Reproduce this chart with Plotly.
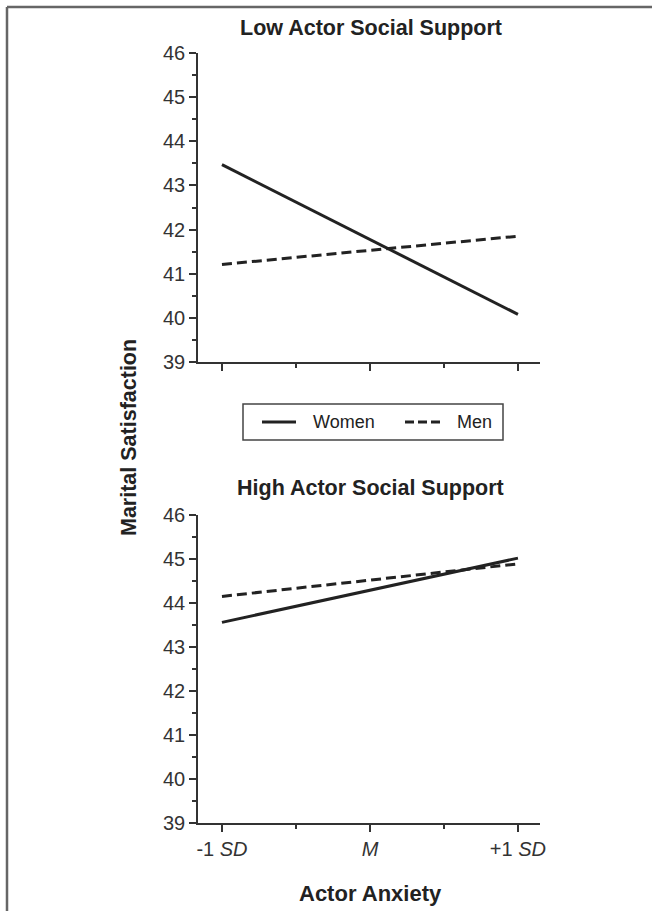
import plotly.graph_objects as go

# Simple-slopes data: marital satisfaction at -1 SD and +1 SD of actor anxiety
anxiety = [-1, 1]
x_tick_vals = [-1, 0, 1]
x_tick_text = ["-1 <i>SD</i>", "<i>M</i>", "+1 <i>SD</i>"]
y_tick_vals = [39, 40, 41, 42, 43, 44, 45, 46]

low_women = [43.47, 40.08]
low_men = [41.21, 41.85]
high_women = [43.56, 45.02]
high_men = [44.15, 44.89]

series_names = ["Women", "Men"]

W, H = 652, 911
FONT = "Liberation Sans, Arial, Helvetica, sans-serif"
INK = "#222222"
AXIS = "#333333"


def px_x(p):
    return p / W


def px_y(p):
    return 1 - p / H


fig = go.Figure()

solid = dict(color=INK, width=3)
dashed = dict(color=INK, width=3, dash="10px,5px")

fig.add_trace(go.Scatter(x=anxiety, y=low_women, mode="lines", line=solid,
                         name=series_names[0], xaxis="x", yaxis="y"))
fig.add_trace(go.Scatter(x=anxiety, y=low_men, mode="lines", line=dashed,
                         name=series_names[1], xaxis="x", yaxis="y"))
fig.add_trace(go.Scatter(x=anxiety, y=high_women, mode="lines", line=solid,
                         name=series_names[0], xaxis="x2", yaxis="y2"))
fig.add_trace(go.Scatter(x=anxiety, y=high_men, mode="lines", line=dashed,
                         name=series_names[1], xaxis="x2", yaxis="y2"))

x_range = [-1.162, 1.149]
common_x = dict(
    range=x_range, showgrid=False, zeroline=False, showline=True,
    linecolor=AXIS, linewidth=1.5, ticks="outside", ticklen=7,
    tickwidth=1.5, tickcolor=AXIS, tickvals=x_tick_vals,
    minor=dict(tickvals=[-0.5, 0.5], ticks="outside", ticklen=4,
               tickwidth=1.5, tickcolor=AXIS),
    domain=[px_x(198), px_x(540)], fixedrange=True, automargin=False,
    tickfont=dict(family=FONT, size=20, color=AXIS),
)
common_y = dict(
    range=[39, 46], showgrid=False, zeroline=False, showline=True,
    linecolor=AXIS, linewidth=1.5, ticks="outside", ticklen=7,
    tickwidth=1.5, tickcolor=AXIS, tickvals=y_tick_vals,
    minor=dict(tickvals=[v + 0.5 for v in y_tick_vals[:-1]], ticks="outside",
               ticklen=4, tickwidth=1.5, tickcolor=AXIS),
    tickfont=dict(family=FONT, size=20, color=AXIS), fixedrange=True,
    automargin=False,
)

fig.update_layout(
    width=W, height=H,
    margin=dict(l=0, r=0, t=0, b=0, autoexpand=False),
    paper_bgcolor="white", plot_bgcolor="white",
    font=dict(family=FONT, color=INK),
    xaxis=dict(common_x, anchor="y", showticklabels=False),
    yaxis=dict(common_y, anchor="x", domain=[px_y(362), px_y(53)]),
    xaxis2=dict(common_x, anchor="y2", ticktext=x_tick_text),
    yaxis2=dict(common_y, anchor="x2", domain=[px_y(823), px_y(515)]),
    showlegend=False,
)

# Panel titles and axis titles
annotations = [
    dict(text="<b>Low Actor Social Support</b>", x=px_x(371), y=px_y(28),
         font=dict(size=21.5)),
    dict(text="<b>High Actor Social Support</b>", x=px_x(370), y=px_y(488),
         font=dict(size=21.5)),
    dict(text="<b>Actor Anxiety</b>", x=px_x(370), y=px_y(893),
         font=dict(size=22)),
    dict(text="<b>Marital Satisfaction</b>", x=px_x(129), y=px_y(438),
         textangle=-90, font=dict(size=21.5)),
]
for a in annotations:
    fig.add_annotation(xref="paper", yref="paper", showarrow=False,
                       xanchor="center", yanchor="middle",
                       **{k: v for k, v in a.items() if k != "font"},
                       font=dict(family=FONT, color=INK, **a["font"]))

# Legend box shared by both panels
fig.add_shape(type="rect", xref="paper", yref="paper",
              x0=px_x(243), x1=px_x(503), y0=px_y(440), y1=px_y(404),
              line=dict(color="#444444", width=1.5), fillcolor="white")
legend_items = [
    (series_names[0], solid, 262, 296, 311),
    (series_names[1], dict(color=INK, width=3, dash="9px,4px"), 405, 441, 455),
]
for label, style, lx0, lx1, tx in legend_items:
    fig.add_shape(type="line", xref="paper", yref="paper",
                  x0=px_x(lx0), x1=px_x(lx1), y0=px_y(422), y1=px_y(422),
                  line=style)
    fig.add_annotation(xref="paper", yref="paper", showarrow=False,
                       x=px_x(tx), y=px_y(422), xanchor="left",
                       yanchor="middle", text=label,
                       font=dict(family=FONT, size=18, color=INK))

# Page frame (left and top edges)
frame = dict(color="#666666", width=2.5)
fig.add_shape(type="line", xref="paper", yref="paper",
              x0=px_x(7), x1=px_x(7), y0=0, y1=px_y(7), line=frame)
fig.add_shape(type="line", xref="paper", yref="paper",
              x0=px_x(7), x1=1, y0=px_y(7), y1=px_y(7), line=frame)

fig.write_html("out.html")
